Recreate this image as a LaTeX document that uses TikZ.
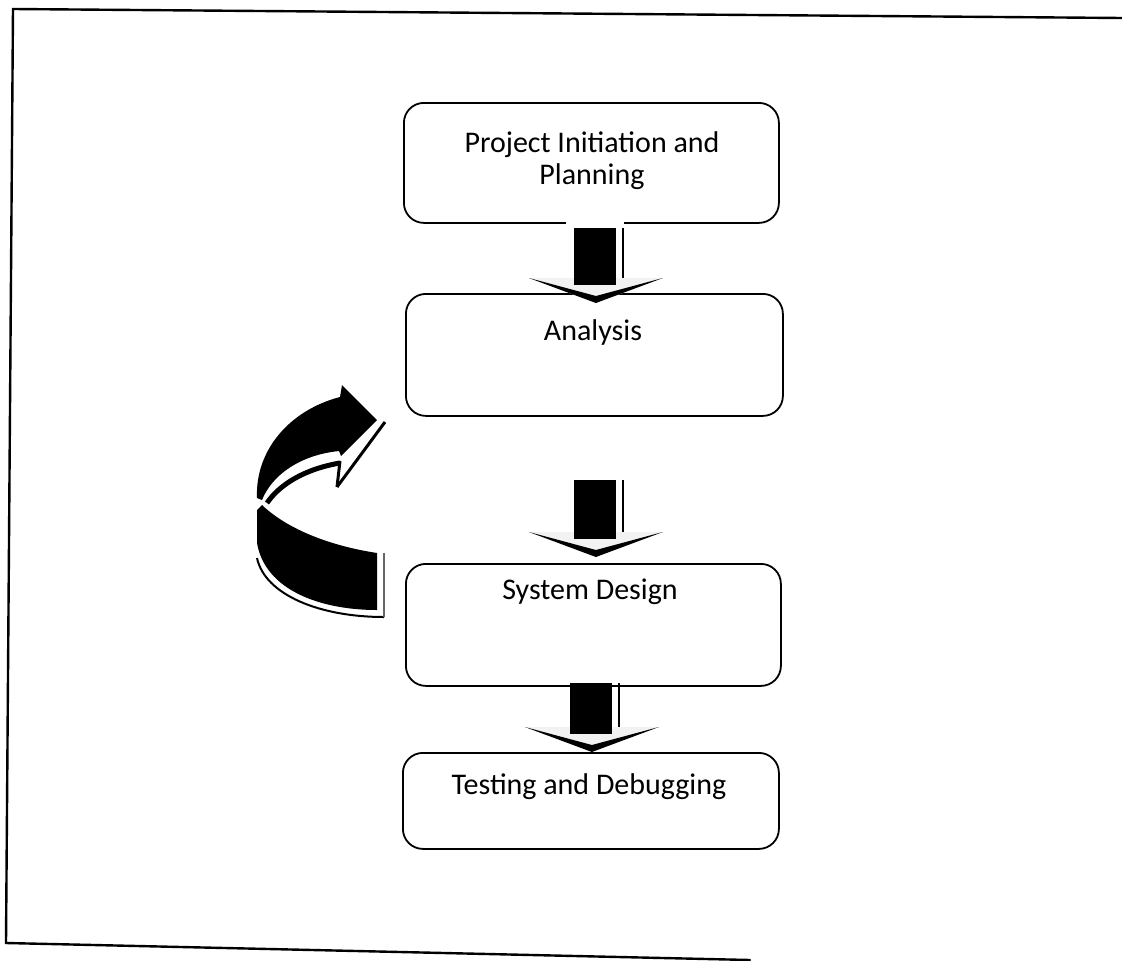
\documentclass[tikz,border=0pt]{standalone}
\usepackage{fontspec}
\setmainfont{Carlito}
\usetikzlibrary{calc}
\newcommand\DownBlk[3]{% #1 anchor node point, #2 offset to tip, #3 shaft length
  \begin{scope}[shift={($(#1)+(#2)$)}]
    \fill[white] (-30,-#3-8) rectangle (28,-#3+1);
    \fill[black!5] (-67,-25) -- (-22,-25) -- (-22,-18) -- (20,-18) -- (20,-25) -- (67,-25) -- (0,0) -- cycle;
    \fill[black] (-22,-#3) rectangle (20,-18);
    \draw[line width=2pt] (27,-#3) -- (27,-25);
    \fill[black] (-67,-25) -- (0,0) -- (67,-25) -- (0,-7) -- cycle;
  \end{scope}}
\begin{document}
\begin{tikzpicture}[x=1pt,y=-1pt,
  box/.style={draw=black, line width=1.8pt, rounded corners=20pt, anchor=north west, inner sep=0pt},
  lbl/.style={font=\fontsize{30}{32}\selectfont, text=black, inner sep=0pt},
  frameline/.style={line width=2.4pt, line cap=round}]
\useasboundingbox (0,0) rectangle (1122,961);
\fill[white] (0,0) rectangle (1122,961);
% outer frame (scanned, slightly tilted)
\draw[frameline] (1122,18) -- (13,9) -- (6,943) -- (750,960);
% boxes
\node[box, minimum width=375pt, minimum height=120pt] (b1) at (403,102) {};
\node[box, minimum width=377pt, minimum height=122pt] (b2) at (405,293) {};
\node[box, minimum width=375pt, minimum height=122pt] (b3) at (405,563) {};
\node[box, minimum width=376pt, minimum height=96pt] (b4) at (402,752) {};
% texts
\node[lbl, align=center, anchor=north] (t1) at (592,131) {Project Initiation and\\Planning};
\node[lbl, anchor=base] (t2) at (593,340) {Analysis};
\node[lbl, anchor=base] (t3) at (590,599) {System Design};
\node[lbl, anchor=base] (t4) at (589,794) {Testing and Debugging};
% block arrows between boxes
\DownBlk{b2.north}{1.5,10}{75}
\DownBlk{b3.north}{2.5,-6}{77}
\DownBlk{b4.north}{1,0}{69}
% curved feedback arrow (upper part)
\fill[black] (257,498) .. controls (255,450) and (290,410) .. (340,397) -- (342,385) -- (377,420)
  -- (341,456) -- (339,451) .. controls (300,455) and (272,475) .. (262,500) -- cycle;
\draw[line width=5pt] (267,503) .. controls (280,484) and (305,469) .. (340,463);
\draw[line width=3pt] (340,461) -- (337,487);
\draw[line width=3pt] (385,422) -- (337,487);
% curved feedback arrow (lower part)
\fill[black] (262,505) .. controls (285,527) and (325,545) .. (377,553) -- (377,610)
  .. controls (320,610) and (265,590) .. (257,543) -- (257,510) -- cycle;
\draw[line width=2pt] (257,558) .. controls (265,595) and (320,617) .. (384,617);
\draw[line width=2pt, black!60] (384,617) -- (384,553);
\end{tikzpicture}
\end{document}
